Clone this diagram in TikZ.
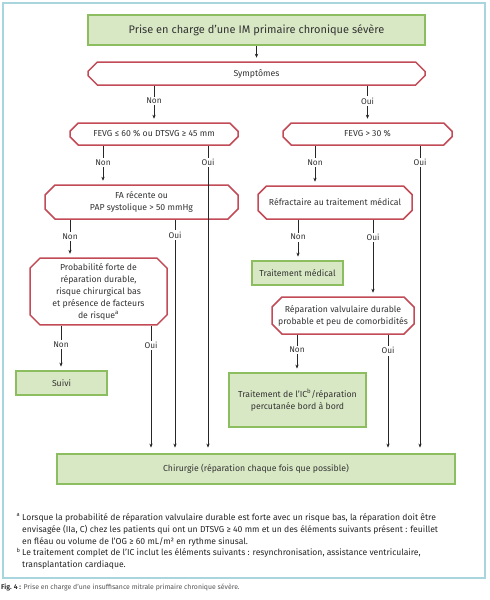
\documentclass[tikz,border=0pt]{standalone}
\usepackage{fontspec}
\setmainfont{Fira Sans}
\usetikzlibrary{shapes.misc,arrows.meta,calc}
\definecolor{grfill}{HTML}{D9E8C4}
\definecolor{grline}{HTML}{8CBE5F}
\definecolor{rdline}{HTML}{C24B57}
\definecolor{framec}{HTML}{A8D5DE}
\definecolor{txt}{HTML}{333333}
\definecolor{capgrey}{HTML}{555555}
\tikzset{
  boxfont/.style={font=\fontsize{8.7}{12}\selectfont, text=txt},
  gbox/.style={draw=grline, fill=grfill, line width=1.8pt, align=center, inner sep=0pt, boxfont},
  rbox/.style={chamfered rectangle, chamfered rectangle xsep=5pt, chamfered rectangle ysep=5pt,
               draw=rdline, line width=1.5pt, fill=white, align=center, inner sep=0pt, boxfont},
  lbl/.style={fill=white, inner sep=1.5pt, font=\fontsize{8.3}{10}\selectfont, text=txt},
  arr/.style={draw=black!85, line width=0.6pt, -{Stealth[length=4pt,width=3.2pt]}, shorten >=3.5pt},
  longarr/.style={arr, shorten >=5.5pt},
  fnote/.style={anchor=west, inner sep=0pt, font=\fontsize{8.6}{11}\selectfont, text=black!85},
}
\begin{document}
\begin{tikzpicture}[x=1pt,y=-1pt]
\useasboundingbox (0,0) rectangle (490,600);
\fill[white] (0,0) rectangle (490,600);
\draw[framec, line width=1.2pt] (3,3) rectangle (485,578);

% nodes
\node[gbox, line width=2.4pt, minimum width=337pt, minimum height=30pt, font=\fontsize{11}{13}\selectfont] (title) at (256.5,30) {Prise en charge d’une IM primaire chronique sévère};
\node[rbox, minimum width=337pt, minimum height=23pt] (sympt) at (256.5,73.5) {Symptômes};
\node[rbox, minimum width=168pt, minimum height=22pt] (fevgA) at (154,134) {FEVG ≤ 60 \% ou DTSVG ≥ 45 mm};
\node[rbox, minimum width=169pt, minimum height=22pt] (fevgB) at (367.5,134) {FEVG > 30 \%};
\node[rbox, minimum width=193pt, minimum height=34pt] (fa) at (141.5,202) {FA récente ou\\PAP systolique > 50 mmHg};
\node[rbox, minimum width=137pt, minimum height=65pt] (prob) at (98.5,291.5) {Probabilité forte de\\réparation durable,\\risque chirurgical bas\\et présence de facteurs\\de risque\textsuperscript{a}};
\node[gbox, minimum width=91pt, minimum height=24pt] (suivi) at (61.5,383) {Suivi};
\node[rbox, minimum width=154pt, minimum height=33pt] (refr) at (335,202.5) {Réfractaire au traitement médical};
\node[gbox, minimum width=91pt, minimum height=24pt] (tmed) at (297.5,273) {Traitement médical};
\node[rbox, minimum width=142pt, minimum height=37pt] (repar) at (343,315.5) {Réparation valvulaire durable\\probable et peu de comorbidités};
\node[gbox, minimum width=137pt, minimum height=54pt] (tic) at (297.5,400) {Traitement de l’IC\textsuperscript{b}/réparation\\percutanée bord à bord};
\node[gbox, minimum width=398pt, minimum height=30pt] (chir) at (256,469) {Chirurgie (réparation chaque fois que possible)};

% x positions of connectors
\coordinate (nA) at (103,0);
\coordinate (oA) at (208,0);
\coordinate (nF) at (70,0);
\coordinate (oF) at (175,0);
\coordinate (nP) at (61,0);
\coordinate (oP) at (151,0);
\coordinate (nB) at (315,0);
\coordinate (oB) at (420,0);
\coordinate (nR) at (298,0);
\coordinate (oR) at (373,0);
\coordinate (nV) at (297,0);
\coordinate (oV) at (388,0);

% connectors
\draw[arr] (title) -- (sympt);
\draw[arr] (sympt.south -| fevgA.north) -- node[lbl,pos=0.42]{Non} (fevgA.north);
\draw[arr] (sympt.south -| fevgB.north) -- node[lbl,pos=0.42]{Oui} (fevgB.north);

\draw[arr] (nA |- fevgA.south) -- node[lbl,pos=0.43]{Non} (nA |- fa.north);
\draw[longarr] (oA |- fevgA.south) -- node[lbl,pos=0.055]{Oui} (oA |- chir.north);

\draw[arr] (nF |- fa.south) -- node[lbl,pos=0.45]{Non} (nF |- prob.north);
\draw[longarr] (oF |- fa.south) -- node[lbl,pos=0.065]{Oui} (oF |- chir.north);

\draw[arr] (nP |- prob.south) -- node[lbl,pos=0.43]{Non} (nP |- suivi.north);
\draw[longarr] (oP |- prob.south) -- node[lbl,pos=0.155]{Oui} (oP |- chir.north);

\draw[arr] (nB |- fevgB.south) -- node[lbl,pos=0.42]{Non} (nB |- refr.north);
\draw[longarr] (oB |- fevgB.south) -- node[lbl,pos=0.055]{Oui} (oB |- chir.north);

\draw[arr] (nR |- refr.south) -- node[lbl,pos=0.43]{Non} (nR |- tmed.north);
\draw[arr] (oR |- refr.south) -- node[lbl,pos=0.23]{Oui} (oR |- repar.north);

\draw[arr] (nV |- repar.south) -- node[lbl,pos=0.41]{Non} (nV |- tic.north);
\draw[longarr] (oV |- repar.south) -- node[lbl,pos=0.135]{Oui} (oV |- chir.north);

% footnotes
\node[fnote, font=\fontsize{5.7}{7}\selectfont] (supa) at (16.5,515) {a};
\node[fnote] (fn1) at (22,518) {Lorsque la probabilité de réparation valvulaire durable est forte avec un risque bas, la réparation doit être};
\node[fnote] (fn2) at (22,530) {envisagée (IIa, C) chez les patients qui ont un DTSVG ≥ 40 mm et un des éléments suivants présent : feuillet};
\node[fnote] (fn3) at (22,541.5) {en fléau ou volume de l’OG ≥ 60 mL/m² en rythme sinusal.};
\node[fnote, font=\fontsize{5.7}{7}\selectfont] (supb) at (16.5,550) {b};
\node[fnote] (fn4) at (22,553) {Le traitement complet de l’IC inclut les éléments suivants : resynchronisation, assistance ventriculaire,};
\node[fnote] (fn5) at (22,565) {transplantation cardiaque.};

% caption
\node[anchor=west, inner sep=0pt, font=\fontsize{6.9}{8}\selectfont, text=capgrey] (cap) at (1,587) {\textbf{\color{black!80}Fig. 4 :} Prise en charge d’une insuffisance mitrale primaire chronique sévère.};
\end{tikzpicture}
\end{document}
